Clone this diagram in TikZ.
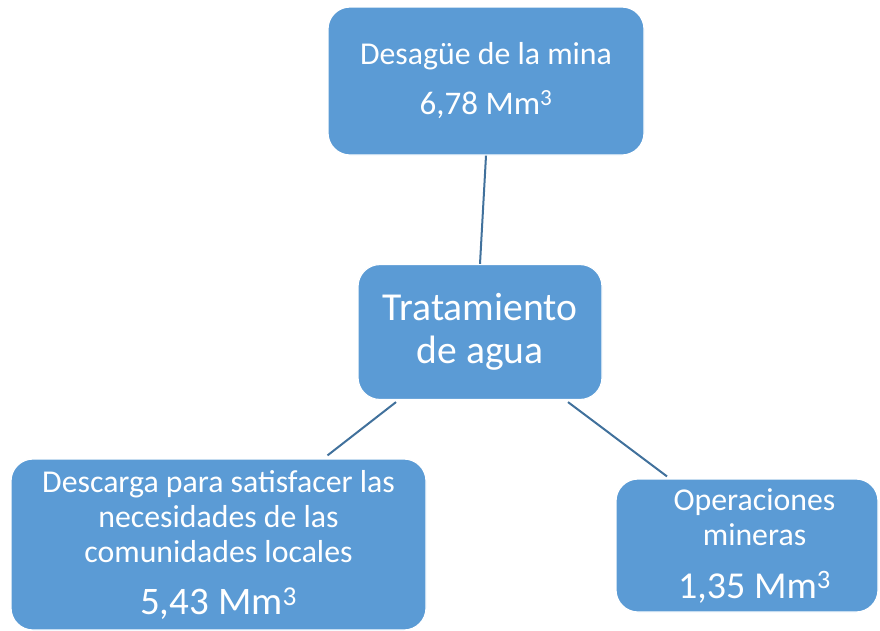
\documentclass[tikz,border=0pt]{standalone}
\usepackage{fontspec}
\setmainfont{Carlito}
\usetikzlibrary{calc}
\definecolor{boxfill}{HTML}{5B9BD5}
\definecolor{linkcol}{HTML}{41719C}
\newcommand{\myrightpad}{\hspace*{15pt}}
\tikzset{
  box/.style={rectangle, rounded corners=22pt, fill=boxfill, draw=white, line width=1.2pt,
    text=white, align=center, inner sep=0pt},
  link/.style={draw=linkcol, line width=2pt}
}
\begin{document}
\begin{tikzpicture}[x=1pt,y=-1pt]
\useasboundingbox (0,0) rectangle (880,630);
\node[box, minimum width=316pt, minimum height=148pt, font=\fontsize{31.8}{50}\selectfont]
  (top) at (486,81) {Desagüe de la mina\\{\fontsize{33}{50}\selectfont 6,78 Mm\textsuperscript{3}}};
\node[box, minimum width=244pt, minimum height=135pt, font=\fontsize{39.6}{43}\selectfont]
  (mid) at (480,332) {Tratamiento\\de agua};
\node[box, minimum width=415pt, minimum height=171pt, font=\fontsize{31.8}{35}\selectfont]
  (left) at (218.5,544.5) {Descarga para satisfacer las\\necesidades de las\\comunidades locales\\[17pt]{\fontsize{39}{42}\selectfont 5,43 Mm\textsuperscript{3}}};
\node[box, minimum width=262pt, minimum height=133pt, font=\fontsize{31.8}{35}\selectfont]
  (right) at (747,545.5) {\myrightpad Operaciones\\\myrightpad mineras\\[18pt]{\fontsize{38}{42}\selectfont\myrightpad 1,35 Mm\textsuperscript{3}}};
\coordinate (lA) at ($(mid.south)+(-84,2)$);
\coordinate (lB) at ($(left.north)+(109,-3)$);
\coordinate (rA) at ($(mid.south)+(88,2)$);
\coordinate (rB) at ($(right.north)+(-80,-2)$);
\draw[link] (top.south) -- (mid.north);
\draw[link] (lA) -- (lB);
\draw[link] (rA) -- (rB);
\end{tikzpicture}
\end{document}
